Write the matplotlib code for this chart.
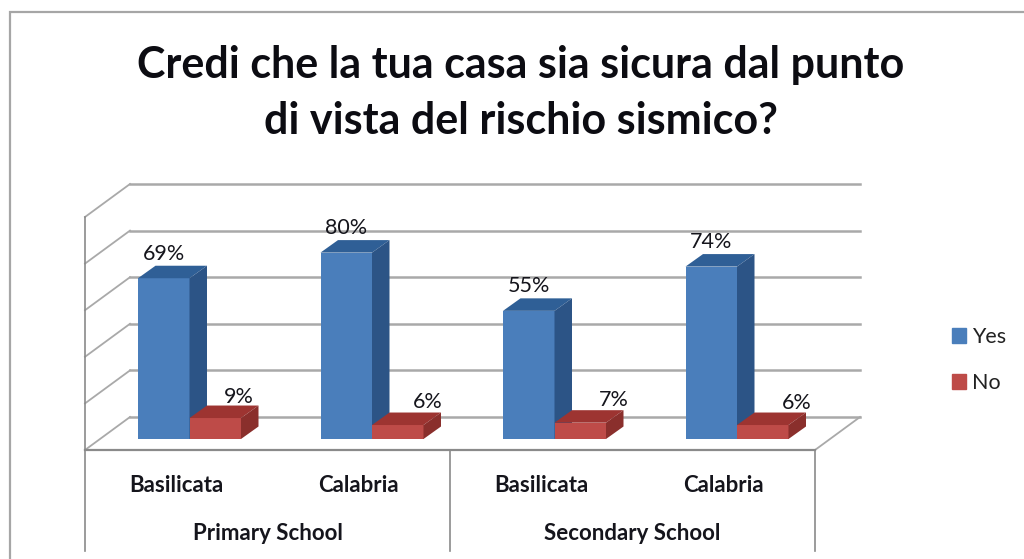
import matplotlib
matplotlib.use('Agg')
import matplotlib.pyplot as plt
from matplotlib.patches import Polygon, Patch, Rectangle

plt.rcParams['font.family'] = ['Lato', 'DejaVu Sans']

title = "Credi che la tua casa sia sicura dal punto\ndi vista del rischio sismico?"
groups = ["Primary School", "Secondary School"]
categories = ["Basilicata", "Calabria", "Basilicata", "Calabria"]
series_names = ["Yes", "No"]
yes_values = [69, 80, 55, 74]
no_values = [9, 6, 7, 6]
grid_values = [0, 20, 40, 60, 80, 100]

W, H = 1024, 559
# px per data unit
PX_X = 182.5
PX_Y = 2.33
X0_PX = 176.25   # first category centre
Y0_PX = 450      # front floor line

# depths in data units
WALL_DX = 45 / PX_X
WALL_DY = 33 / PX_Y
BAR_START = -38.25 / PX_X
BAR_OFF_Y = 11 / PX_Y
BAR_DX = 17.5 / PX_X
BAR_DY = 12.5 / PX_Y
BAR_W = 51.5 / PX_X

BLUE = ('#4a7ebb', '#2f5f96', '#2c5486')
RED = ('#be4b48', '#9d3431', '#8a2f2c')
GRID = '#a9a9a9'
AXIS = '#8a8a8a'
TEXT = '#15151c'


def draw_bar(ax, x, value, colors):
    front, top, side = colors
    base = BAR_OFF_Y
    ax.bar(x, value, width=BAR_W, bottom=base, align='edge', color=front, linewidth=0, zorder=3)
    y1 = base + value
    ax.add_patch(Polygon([(x, y1), (x + BAR_W, y1), (x + BAR_W + BAR_DX, y1 + BAR_DY), (x + BAR_DX, y1 + BAR_DY)],
                         closed=True, color=top, linewidth=0, zorder=3))
    ax.add_patch(Polygon([(x + BAR_W, base), (x + BAR_W + BAR_DX, base + BAR_DY), (x + BAR_W + BAR_DX, y1 + BAR_DY), (x + BAR_W, y1)],
                         closed=True, color=side, linewidth=0, zorder=3))


fig = plt.figure(figsize=(W / 100, H / 100), dpi=100)
ax = fig.add_axes([0, 0, 1, 1])
ax.set_xlim(-X0_PX / PX_X, (W - X0_PX) / PX_X)
ax.set_ylim(-(H - Y0_PX) / PX_Y, Y0_PX / PX_Y)
ax.axis('off')

# chart area border
ax.add_patch(Rectangle((10 / W, -0.1), 1.1, 1.0 - 12 / H + 0.1, transform=ax.transAxes,
                       fill=False, edgecolor='#a6a6a6', linewidth=1.6, zorder=1))

# walls
left = -0.5
right = len(categories) - 0.5
for g in grid_values:
    ax.plot([left + WALL_DX, right + WALL_DX], [g + WALL_DY, g + WALL_DY], color=GRID, lw=1.8, zorder=1)
    ax.plot([left, left + WALL_DX], [g, g + WALL_DY], color=GRID, lw=1.3, zorder=1)
ax.plot([right, right + WALL_DX], [0, WALL_DY], color=GRID, lw=1.3, zorder=1)
ax.plot([left, left], [0, grid_values[-1]], color=AXIS, lw=1.2, zorder=2)

# category axis
bottom_y = -101 / PX_Y
ax.plot([left, right], [0, 0], color=AXIS, lw=1.6, zorder=2)
for xv in [left, left + 2, right]:
    ax.plot([xv, xv], [0, bottom_y], color=AXIS, lw=1.2, zorder=2)

# bars
no_label_dx = [0.13, 0.165, 0.185, 0.185]
no_label_dy = [9.1, 10, 9.6, 9.3]
for i in range(len(categories)):
    x = i + BAR_START
    draw_bar(ax, x, yes_values[i], BLUE)
    draw_bar(ax, x + BAR_W, no_values[i], RED)
    ax.text(x + BAR_W / 2, yes_values[i] + BAR_OFF_Y + 10.5, f"{yes_values[i]}%",
            ha='center', va='center', fontsize=15.5, color=TEXT, zorder=4)
    ax.text(x + BAR_W * 1.5 + no_label_dx[i], no_values[i] + BAR_OFF_Y + no_label_dy[i], f"{no_values[i]}%",
            ha='center', va='center', fontsize=15.5, color=TEXT, zorder=4)
    ax.text(i, -36 / PX_Y, categories[i], ha='center', va='center', fontsize=16,
            fontweight='bold', color=TEXT)

for j, g in enumerate(groups):
    ax.text(j * 2 + 0.5, -84 / PX_Y, g, ha='center', va='center', fontsize=16,
            fontweight='bold', color=TEXT)

fig.text(521 / W, 1 - 93 / H, title, ha='center', va='center', fontsize=31, fontweight='bold',
         color='#0c0c12', linespacing=1.49)

handles = [Patch(color=BLUE[0], label=series_names[0]), Patch(color=RED[0], label=series_names[1])]
ax.legend(handles=handles, loc='center left', bbox_to_anchor=(952 / W, 1 - 360 / H), frameon=False,
          fontsize=15.5, handlelength=0.65, handleheight=0.65, handletextpad=0.28, labelspacing=1.2,
          labelcolor='#222222', borderpad=0, borderaxespad=0)

fig.savefig('out.png', dpi=100, facecolor='white')
